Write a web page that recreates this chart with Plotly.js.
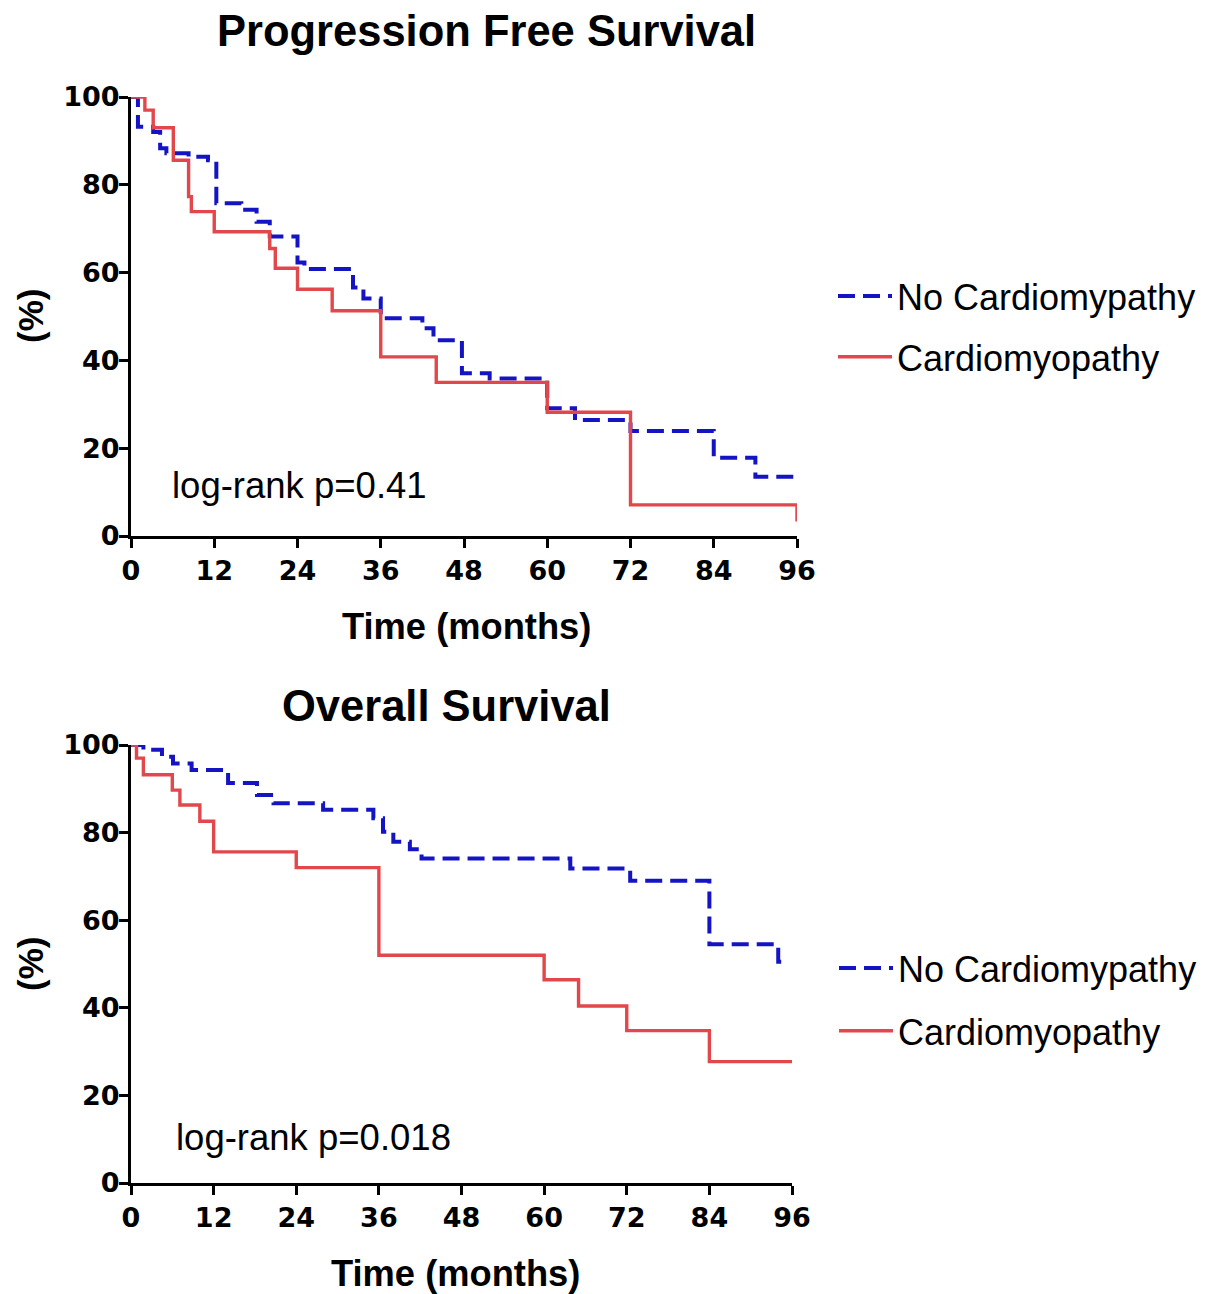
<!DOCTYPE html>
<html>
<head>
<meta charset="utf-8">
<script src="https://cdn.plot.ly/plotly-3.0.1.min.js"></script>
<style>
  html, body { margin: 0; padding: 0; background: #ffffff; }
  #chart { width: 1215px; height: 1294px; }
</style>
</head>
<body>
<div id="chart"></div>
<script>
// ---------------- Data ----------------
const seriesNames = ["No Cardiomypathy", "Cardiomyopathy"];

// Progression Free Survival
const pfsNoTime = [0, 1, 3.2, 4.2, 5.1, 8.3, 11.1, 12.3, 15.9, 18.1, 20, 24, 25, 32, 33.5, 36, 42, 43.6, 47.7, 51.7, 60, 64, 72, 84, 90, 96];
const pfsNoSurv = [100, 93.2, 92, 88.3, 87.2, 86.4, 85.6, 75.8, 74.3, 71.6, 68.2, 62.3, 60.8, 56.6, 54.1, 49.6, 47.3, 44.6, 37.1, 35.9, 29.1, 26.4, 23.9, 17.8, 13.5, 13.5];
const pfsCmTime = [0, 2, 3.2, 6.1, 8.3, 8.7, 12, 20, 20.8, 24, 29, 36, 44, 60, 72, 96];
const pfsCmSurv = [100, 97, 93, 85.6, 77.3, 73.9, 69.3, 65.5, 61, 56.2, 51.3, 40.8, 35, 28.2, 7.1, 3.3];

// Overall Survival
const osNoTime = [0, 1.8, 4.5, 6.1, 8.8, 14.1, 18.3, 20.7, 27.9, 35.2, 36.6, 38.1, 40.5, 42.2, 63.8, 72.5, 84, 94, 95];
const osNoSurv = [100, 98.9, 97.3, 95.8, 94.3, 91.3, 88.6, 86.7, 85.2, 83.3, 80.2, 77.9, 76.2, 74.1, 71.8, 69, 54.5, 50.5, 50.5];
const osCmTime = [0, 0.8, 1.8, 6, 7.1, 10, 12, 24, 36, 60, 65, 72, 84, 96];
const osCmSurv = [100, 97, 93.2, 89.7, 86.3, 82.6, 75.6, 72, 52, 46.4, 40.4, 34.8, 27.7, 27.7];

// Tick labels
const xTicks = [0, 12, 24, 36, 48, 60, 72, 84, 96];
const yTicks = [0, 20, 40, 60, 80, 100];

const titles = ["Progression Free Survival", "Overall Survival"];
const pTexts = ["log-rank p=0.41", "log-rank p=0.018"];
const xTitle = "Time (months)";
const yTitle = "(%)";

// ---------------- Helpers ----------------
const W = 1215, H = 1294;
const px = x => x / W;
const py = y => 1 - y / H;

const BLUE = "#1414c4";
const RED = "#e2474c";
const FONT = "Liberation Sans, Arial, Helvetica, sans-serif";
const TICKFONT = {family: "DejaVu Sans, Liberation Sans, Arial, sans-serif", size: 27, color: "#000", weight: "bold"};

function trace(x, y, name, color, dash, xa, ya, legend, group) {
  return {
    type: "scatter", mode: "lines", x: x, y: y, name: name,
    xaxis: xa, yaxis: ya, legend: legend, legendgroup: group,
    line: {shape: "hv", color: color, width: dash === "solid" ? 3.4 : 4, dash: dash},
    hoverinfo: "skip"
  };
}

const DASH = "17px,8px";
const data = [
  trace(pfsNoTime, pfsNoSurv, seriesNames[0], BLUE, DASH, "x", "y", "legend", "a"),
  trace(pfsCmTime, pfsCmSurv, seriesNames[1], RED, "solid", "x", "y", "legend", "b"),
  trace(osNoTime, osNoSurv, seriesNames[0], BLUE, DASH, "x2", "y2", "legend2", "c"),
  trace(osCmTime, osCmSurv, seriesNames[1], RED, "solid", "x2", "y2", "legend2", "d")
];

function xAxis(domain, anchor) {
  return {
    domain: domain, anchor: anchor, range: [0, 96],
    showline: true, linecolor: "#000", linewidth: 3,
    ticks: "outside", ticklen: 9, tickwidth: 3, tickcolor: "#000",
    tickmode: "array", tickvals: xTicks, ticktext: xTicks.map(String),
    tickfont: TICKFONT, showgrid: false, zeroline: false, fixedrange: true
  };
}
function yAxis(domain, anchor) {
  return {
    domain: domain, anchor: anchor, range: [0, 100],
    showline: true, linecolor: "#000", linewidth: 3,
    ticks: "outside", ticklen: 9, tickwidth: 3, tickcolor: "#000",
    ticklabelstandoff: -6,
    tickmode: "array", tickvals: yTicks, ticktext: yTicks.map(String),
    tickfont: TICKFONT, showgrid: false, zeroline: false, fixedrange: true
  };
}

function legendAt(x, y, gap) {
  return {
    x: px(x), y: py(y), xanchor: "left", yanchor: "top",
    font: {family: FONT, size: 36, color: "#000"},
    bgcolor: "rgba(0,0,0,0)", tracegroupgap: gap, itemwidth: 54
  };
}

function ann(text, x, y, size, opts) {
  return Object.assign({
    text: text, xref: "paper", yref: "paper", x: px(x), y: py(y),
    xanchor: "center", yanchor: "middle", showarrow: false,
    font: {family: FONT, size: size, color: "#000"}
  }, opts || {});
}

const layout = {
  width: W, height: H,
  margin: {l: 0, r: 0, t: 0, b: 0},
  paper_bgcolor: "#fff", plot_bgcolor: "#fff",
  showlegend: true,
  xaxis: xAxis([px(131), px(797)], "y"),
  yaxis: yAxis([py(536), py(97)], "x"),
  xaxis2: xAxis([px(131), px(792)], "y2"),
  yaxis2: yAxis([py(1183), py(745)], "x2"),
  legend: legendAt(833, 266, 11),
  legend2: legendAt(834, 938, 13),
  annotations: [
    ann("<b>" + titles[0] + "</b>", 486, 31, 43.5),
    ann("<b>" + titles[1] + "</b>", 446, 706, 43.5),
    ann("<b>" + xTitle + "</b>", 466, 626, 36.3),
    ann("<b>" + xTitle + "</b>", 455, 1273, 36.3),
    ann("<b>" + yTitle + "</b>", 30, 316, 35, {textangle: -90}),
    ann("<b>" + yTitle + "</b>", 30, 964, 35, {textangle: -90}),
    ann(pTexts[0], 170, 485, 36.5, {xanchor: "left"}),
    ann(pTexts[1], 174, 1137, 36.5, {xanchor: "left"})
  ]
};

Plotly.newPlot("chart", data, layout, {displayModeBar: false, staticPlot: true});
</script>
</body>
</html>
